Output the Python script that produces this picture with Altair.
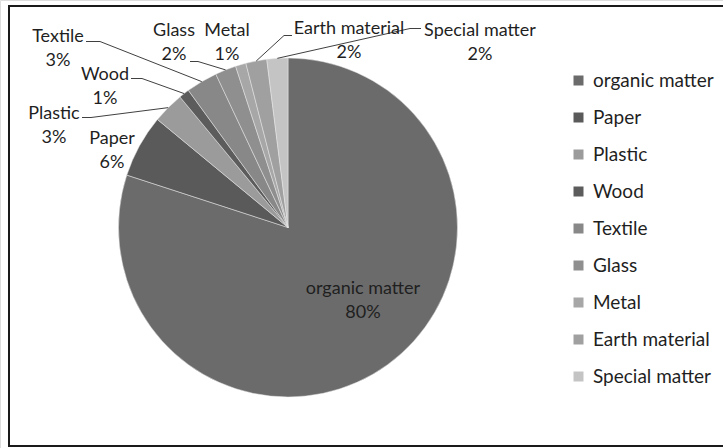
import altair as alt
import pandas as pd

# ---- data ----
categories = ["organic matter", "Paper", "Plastic", "Wood", "Textile",
              "Glass", "Metal", "Earth material", "Special matter"]
values = [80, 6, 3, 1, 3, 2, 1, 2, 2]
colors = ["#6b6b6b", "#5a5a5a", "#9b9b9b", "#5c5c5c", "#888888",
          "#8f8f8f", "#a7a7a7", "#a0a0a0", "#c4c4c4"]

# ---- layout (pie geometry and label placement, relative to pie centre) ----
CX, CY, R = 288, 227.5, 169.5
label_dx = [75, -176, -234, -183, -230, -114, -61, 61, 192]
label_dy = [73, -77, -102, -141, -179, -185, -185, -187, -185]
# leader: start offset from label centre and horizontal segment length
lead_ox = [0, 0, 28, 26, 28, 16, 0, -57, -59]
lead_oy = [0, 0, -8, -8, -7, 19, 0, -5, -14]
lead_seg = [0, 0, 9, 11, 14, 8, 0, -8, -11]
has_leader = [False, False, True, True, True, True, False, True, True]

FONT = "Lato"
TXT = "#1f1f1f"
LH = 24

df = pd.DataFrame({
    "category": categories,
    "value": values,
    "order": list(range(len(categories))),
    "ldx": label_dx, "ldy": label_dy,
    "lox": lead_ox, "loy": lead_oy, "lseg": lead_seg,
    "lead": has_leader,
})

base = alt.Chart(df).transform_joinaggregate(
    total="sum(value)"
).transform_window(
    cum="sum(value)", sort=[alt.SortField("order")], frame=[None, 0]
).transform_calculate(
    pct="round(datum.value / datum.total * 100) + '%'",
    mid="(datum.cum - datum.value / 2) / datum.total * 2 * PI",
    ex=f"{CX} + {R} * sin(datum.mid)",
    ey=f"{CY} - {R} * cos(datum.mid)",
    lx=f"{CX} + datum.ldx",
    ly=f"{CY} + datum.ldy",
    sx="datum.lx + datum.lox",
    sy="datum.ly + datum.loy",
    kx="datum.sx + datum.lseg",
    label="[datum.category, datum.pct]",
)

pie = alt.Chart(df).mark_arc(
    outerRadius=R, stroke="#e8e8e8", strokeWidth=0.5
).encode(
    theta=alt.Theta("value:Q", stack=True),
    order=alt.Order("order:Q"),
    color=alt.Color(
        "category:N",
        scale=alt.Scale(domain=categories, range=colors),
        sort=categories,
        legend=alt.Legend(
            title=None, orient="none", legendX=569, legendY=71,
            symbolType="square", symbolSize=100, symbolStrokeWidth=0,
            labelFont=FONT, labelFontSize=19, labelColor=TXT,
            labelOffset=5, rowPadding=17, padding=0,
        ),
    ),
    x=alt.value(CX),
    y=alt.value(CY),
)

lead_a = base.transform_filter("datum.lead").mark_rule(
    color="#404040", strokeWidth=1
).encode(
    x=alt.X("sx:Q", scale=None), y=alt.Y("sy:Q", scale=None),
    x2="kx:Q", y2="sy:Q",
)
lead_b = base.transform_filter("datum.lead").mark_rule(
    color="#404040", strokeWidth=1
).encode(
    x=alt.X("kx:Q", scale=None), y=alt.Y("sy:Q", scale=None),
    x2="ex:Q", y2="ey:Q",
)

labels = base.mark_text(
    font=FONT, fontSize=18, color=TXT, align="center", baseline="middle",
    lineHeight=LH, dy=-LH / 2,
).encode(
    x=alt.X("lx:Q", scale=None), y=alt.Y("ly:Q", scale=None),
    text="label:N",
)

border = alt.Chart(df).mark_rect(
    fill=None, stroke="#1a1a1a", strokeWidth=2
).encode(
    x=alt.value(9), x2=alt.value(730), y=alt.value(6), y2=alt.value(446)
).transform_filter("datum.order == 0")

chart = alt.layer(border, pie, lead_a, lead_b, labels).properties(
    width=723, height=448,
    autosize=alt.AutoSizeParams(type="none"),
    padding=0,
).configure_view(stroke=None).configure(background="white")

chart.save("out.html", embed_options={"renderer": "svg", "actions": False})
